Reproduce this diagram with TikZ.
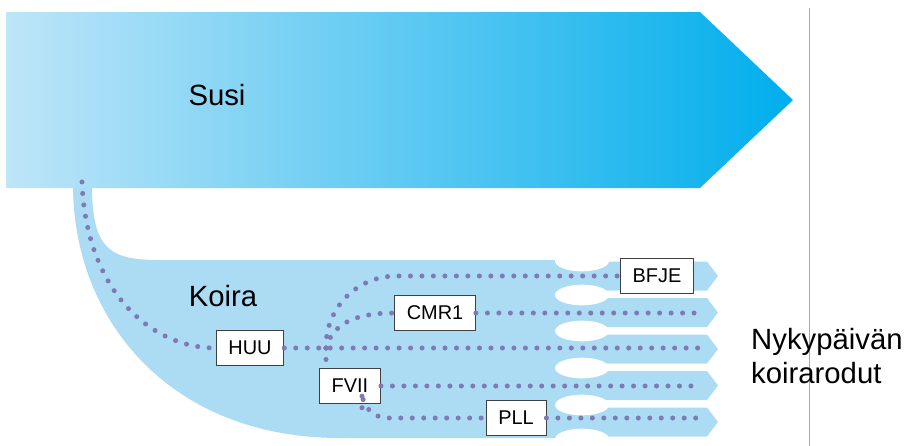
\documentclass[tikz,border=0pt]{standalone}
\usepackage{fontspec}
\setmainfont{Liberation Sans}
\usetikzlibrary{positioning}
\definecolor{wolfpale}{RGB}{190,229,248}
\definecolor{wolfmid}{RGB}{70,196,240}
\definecolor{wolfdeep}{RGB}{0,174,236}
\definecolor{dogblue}{RGB}{172,220,244}
\definecolor{dotpurple}{RGB}{126,122,180}
\tikzset{
    gene/.style={rectangle, draw=black!75, fill=white, line width=0.7pt, minimum height=29.5pt, inner xsep=10.5pt, inner ysep=0pt, font=\fontsize{17}{17}\selectfont},
    lineage/.style={draw=dotpurple, line width=4.3pt, line cap=round, dash pattern=on 0pt off 9.8pt},
    title/.style={font=\fontsize{25}{29}\selectfont, align=left, inner sep=0pt},
    notch/.style={fill=white}
}

\begin{document}
\begin{tikzpicture}[x=0.03cm, y=-0.03cm]
    \useasboundingbox (0,0) rectangle (913,446);

    % dog body and the five breed prongs
    \fill[dogblue] (73,185) .. controls (73,320) and (170,438) .. (340,438) -- (590,438)
        -- (590,260) -- (160,260) .. controls (110,260) and (92,250) .. (92,185) -- cycle;
    \foreach \y in {276,312.5,349,385.5,422}
        \fill[dogblue] (585,\y-14.5) -- (707,\y-14.5) -- (718,\y) -- (707,\y+14.5) -- (585,\y+14.5) -- cycle;
    \foreach \y in {261,295,331,368,405,439}
        \fill[notch] (582,\y) ellipse [x radius=0.81cm, y radius=0.31cm];

    % wolf arrow
    \shade[left color=wolfpale, middle color=wolfmid, right color=wolfdeep]
        (6,12) -- (700,12) -- (793,100) -- (700,188) -- (6,188) -- cycle;
    \draw[black!35, line width=0.6pt] (809,8) -- (809,446);

    \node[title] (susi) at (217,95) {Susi};
    \node[title] (koira) at (223,296) {Koira};
    \node[title, anchor=west] (today) at (751,356) {Nykypäivän\\koirarodut};

    \node[gene] (huu) at (250,348) {HUU};
    \node[gene] (cmr) at (435,313) {CMR1};
    \node[gene] (bfje) at (657,276) {BFJE};
    \node[gene] (fvii) at (350,386) {FVII};
    \node[gene] (pll) at (516,418) {PLL};

    \coordinate (wolfroot) at (82,182);
    \coordinate (fork) at (326,348);
    \coordinate (endCmr) at (700,313);
    \coordinate (endHuu) at (700,348);
    \coordinate (endFvii) at (700,386);
    \coordinate (endPll) at (700,418);

    \draw[lineage] (wolfroot) .. controls (86,290) and (150,348) .. (huu.west);
    \draw[lineage] (huu.east) -- (endHuu);
    \draw[lineage, rounded corners=60pt] (fork) |- (bfje.west);
    \draw[lineage] (fork) to[out=75, in=180] (cmr.west);
    \draw[lineage] (cmr.east) -- (endCmr);
    \draw[lineage] (fork) -- ([yshift=0.12cm]fork |- fvii.north);
    \draw[lineage] (fvii.east) -- (endFvii);
    \draw[lineage, rounded corners=22pt] ([xshift=0.36cm, yshift=-0.12cm]fvii.south) |- (pll.west);
    \draw[lineage] (pll.east) -- (endPll);
\end{tikzpicture}
\end{document}
